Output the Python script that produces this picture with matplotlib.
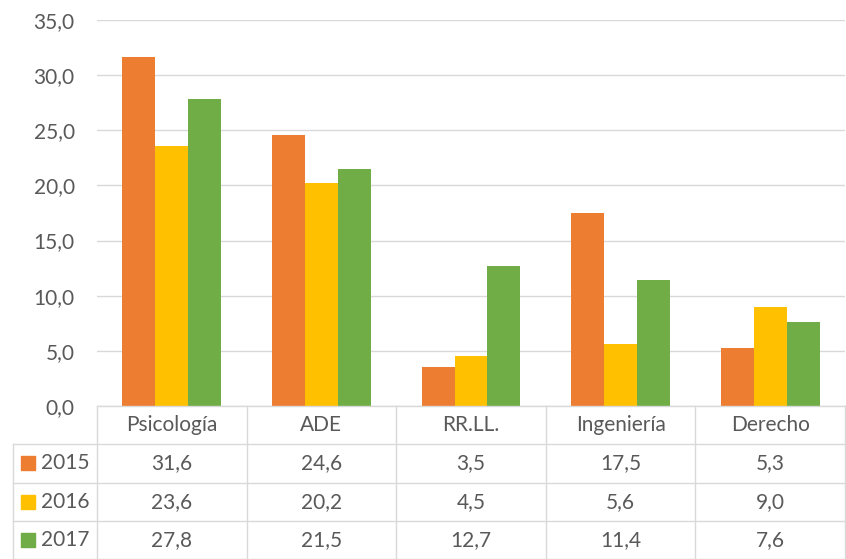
import numpy as np
import matplotlib.pyplot as plt

# Porcentaje por titulación y año
carreras = ["Psicología", "ADE", "RR.LL.", "Ingeniería", "Derecho"]
anios = ["2015", "2016", "2017"]
v2015 = [31.6, 24.6, 3.5, 17.5, 5.3]
v2016 = [23.6, 20.2, 4.5, 5.6, 9.0]
v2017 = [27.8, 21.5, 12.7, 11.4, 7.6]
series = [v2015, v2016, v2017]
colores = ["#ED7D31", "#FFC000", "#70AD47"]

gris_texto = "#595959"
gris_linea = "#D9D9D9"
plt.rcParams["font.family"] = ["Lato", "DejaVu Sans"]

W, H = 846, 559
fig = plt.figure(figsize=(W / 100, H / 100), dpi=100)


def px(x0, y0, x1, y1):
    # caja en píxeles -> coordenadas de figura
    return [x0 / W, 1 - y1 / H, (x1 - x0) / W, (y1 - y0) / H]


x_izq, x_der = 97, 845
y_top, y_cero, y_fin = 20, 406, 559
fs = 15

ax = fig.add_axes(px(x_izq, y_top, x_der, y_cero))
x = np.arange(len(carreras))
ancho = 0.22
for i, (vals, c) in enumerate(zip(series, colores)):
    ax.bar(x + (i - 1) * ancho, vals, width=ancho, color=c, zorder=3)

ax.set_xlim(-0.5, len(carreras) - 0.5)
ax.set_ylim(0, 35)
ax.set_yticks(np.arange(0, 36, 5))
ax.set_yticklabels([f"{t:.1f}".replace(".", ",") for t in np.arange(0, 36, 5)])
ax.tick_params(axis="y", length=0, pad=16, labelsize=fs, labelcolor=gris_texto)
ax.set_xticks([])
ax.grid(axis="y", color=gris_linea, linewidth=1, zorder=0)
for s in ax.spines.values():
    s.set_visible(False)

# Tabla de datos bajo el gráfico
tb = fig.add_axes(px(x_izq, y_cero, x_der, y_fin))
tb.set_xlim(-0.5, len(carreras) - 0.5)
tb.set_ylim(4, 0)
tb.axis("off")
col_izq = -0.5 - (x_izq - 13) / ((x_der - x_izq) / len(carreras))
kw = dict(color=gris_linea, linewidth=1, clip_on=False)

tb.plot([-0.5, len(carreras) - 0.5], [0, 0], **kw)
for r in range(1, 5):
    tb.plot([col_izq, len(carreras) - 0.5], [r, r], **kw)
for c in range(len(carreras) + 1):
    tb.plot([c - 0.5, c - 0.5], [0, 4], **kw)
tb.plot([col_izq, col_izq], [1, 4], **kw)

for j, nombre in enumerate(carreras):
    tb.text(j, 0.5, nombre, ha="center", va="center", fontsize=fs, color=gris_texto)
for i, (anio, vals, c) in enumerate(zip(anios, series, colores)):
    fila = i + 1.5
    tb.scatter([col_izq + 0.1], [fila], marker="s", s=110, color=c, clip_on=False)
    tb.text(col_izq + 0.19, fila, anio, ha="left", va="center", fontsize=fs, color=gris_texto)
    for j, v in enumerate(vals):
        tb.text(j, fila, f"{v:.1f}".replace(".", ","), ha="center", va="center",
                fontsize=fs, color=gris_texto)

fig.savefig("out.png", dpi=100)
